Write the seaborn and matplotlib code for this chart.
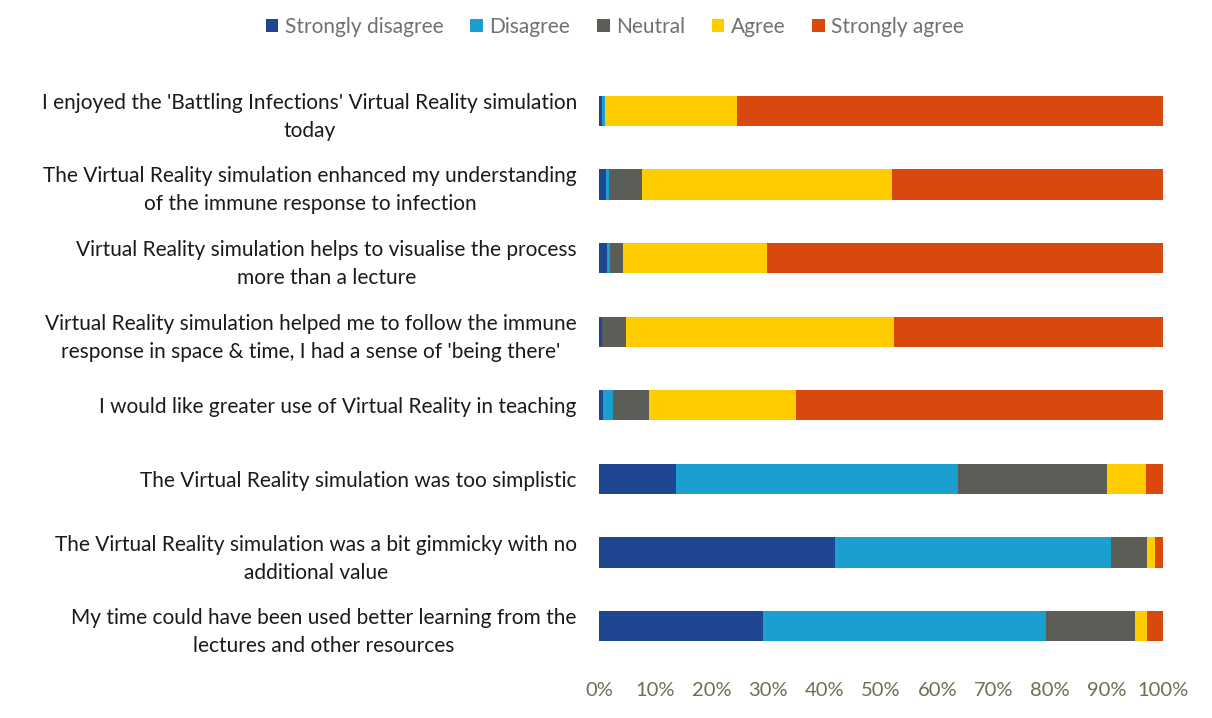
import matplotlib as mpl

mpl.use('Agg')
import numpy as np
import pandas as pd
import matplotlib.pyplot as plt
import seaborn as sns

statements = [
    "I enjoyed the 'Battling Infections' Virtual Reality simulation\ntoday",
    "The Virtual Reality simulation enhanced my understanding\nof the immune response to infection",
    "Virtual Reality simulation helps to visualise the process\nmore than a lecture",
    "Virtual Reality simulation helped me to follow the immune\nresponse in space & time, I had a sense of 'being there'",
    "I would like greater use of Virtual Reality in teaching",
    "The Virtual Reality simulation was too simplistic",
    "The Virtual Reality simulation was a bit gimmicky with no\nadditional value",
    "My time could have been used better learning from the\nlectures and other resources",
]
levels = ["Strongly disagree", "Disagree", "Neutral", "Agree", "Strongly agree"]

strongly_disagree = [0.5, 1.2, 1.5, 0.5, 0.7, 13.7, 41.9, 29.0]
disagree = [0.5, 0.6, 0.5, 0.0, 1.8, 49.9, 48.9, 50.2]
neutral = [0.0, 5.9, 2.3, 4.3, 6.4, 26.5, 6.4, 15.8]
agree = [23.5, 44.3, 25.4, 47.5, 26.1, 6.9, 1.4, 2.1]
strongly_agree = [75.5, 48.0, 70.3, 47.7, 65.0, 3.0, 1.4, 2.9]

colors = ["#1f4690", "#1a9fd0", "#5b5e57", "#ffcc00", "#d9480f"]

df = pd.DataFrame({
    "statement": statements,
    "Strongly disagree": strongly_disagree,
    "Disagree": disagree,
    "Neutral": neutral,
    "Agree": agree,
    "Strongly agree": strongly_agree,
})
vals = df[levels].to_numpy()
vals = vals / vals.sum(axis=1, keepdims=True) * 100
cum = np.cumsum(vals, axis=1)

sns.set_style("white")
plt.rcParams['font.family'] = ['Lato', 'DejaVu Sans']

fig = plt.figure(figsize=(12.12, 7.18), dpi=100)
ax = fig.add_axes([599 / 1212, 1 - 663 / 718, 564 / 1212, 589 / 718])

# layered cumulative bars, widest first
for i in range(len(levels) - 1, -1, -1):
    sns.barplot(x=cum[:, i], y=df["statement"], color=colors[i],
                orient="h", width=0.41, saturation=1, linewidth=0, ax=ax,
                label=levels[i])

handles, labels = ax.get_legend_handles_labels()
if ax.get_legend() is not None:
    ax.get_legend().remove()

ax.set_xlim(0, 100)
ax.set_xticks(range(0, 101, 10))
ax.set_xticklabels([f"{t}%" for t in range(0, 101, 10)])
ax.set_xlabel("")
ax.set_ylabel("")
for s in ax.spines.values():
    s.set_visible(False)
ax.tick_params(axis='x', length=0, pad=14, labelsize=14.5, labelcolor="#6e6e52")
ax.tick_params(axis='y', length=0, pad=16, labelsize=15, labelcolor="#1a1a1a")
for lab in ax.get_yticklabels():
    lab.set_multialignment('center')
    lab.set_linespacing(1.5)

order = [labels.index(l) for l in levels]
fig.legend([handles[k] for k in order], levels, loc='center',
           bbox_to_anchor=(615 / 1212, 1 - 27 / 718), ncol=5, frameon=False,
           fontsize=15, labelcolor="#707070", handlelength=0.6,
           handleheight=0.6, handletextpad=0.3, columnspacing=1.3)

plt.savefig("out.png", dpi=100)
